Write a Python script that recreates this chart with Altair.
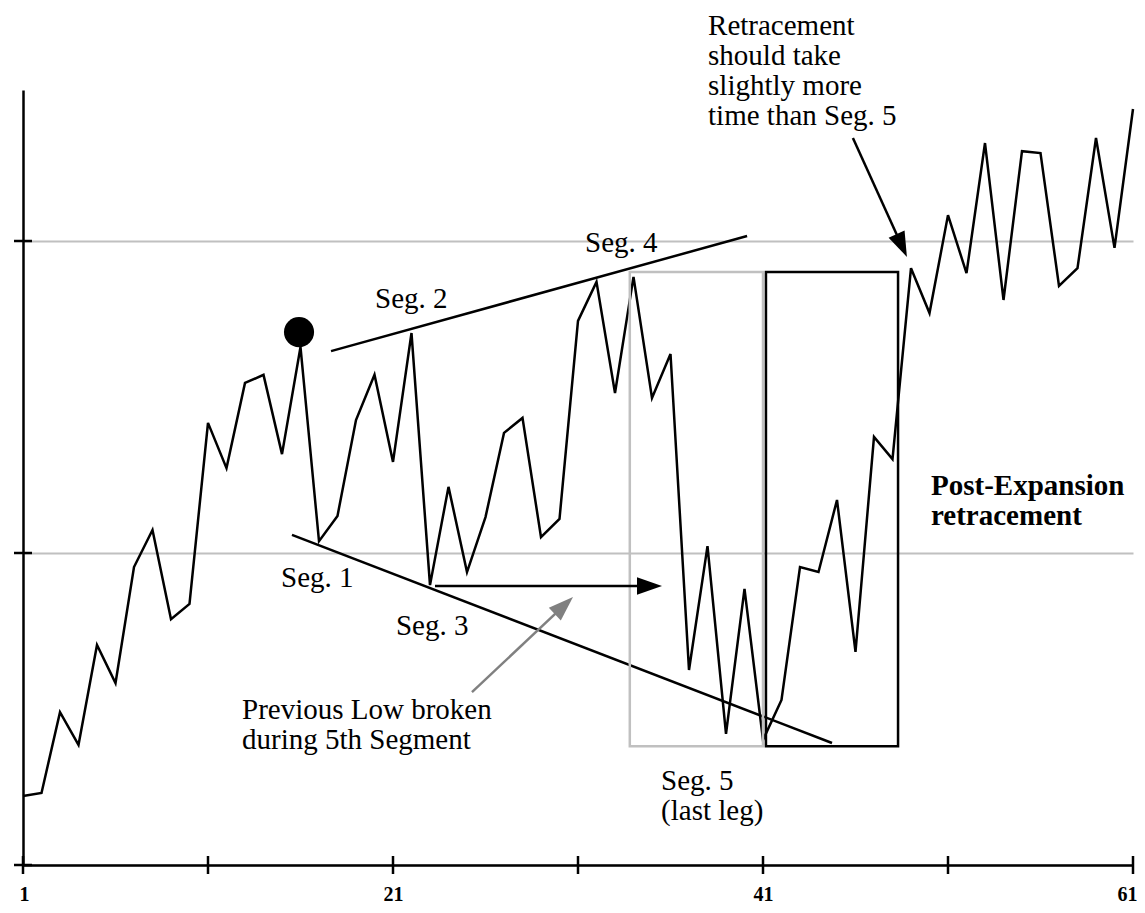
import math
import altair as alt
import pandas as pd

# ---------------- data ----------------
idx = list(range(1, 62))
price = [22.1, 23.1, 49.0, 38.5, 70.5, 58.3, 95.5, 107.4, 78.8, 83.7,
         141.7, 127.2, 154.5, 157.1, 131.7, 166.0, 103.8, 111.9, 142.6, 157.1,
         129.2, 170.5, 89.7, 121.2, 93.9, 111.5, 138.5, 143.3, 105.1, 110.9,
         174.4, 186.9, 151.3, 188.5, 149.7, 163.8, 62.5, 102.2, 42.0, 88.5,
         40.1, 52.9, 95.5, 93.9, 117.0, 68.3, 137.2, 130.1, 191.3, 176.9,
         208.3, 189.7, 231.4, 181.1, 228.8, 228.2, 185.6, 191.3, 233.0, 197.8,
         242.3]

x_ticks = [1, 11, 21, 31, 41, 51, 61]
y_ticks = [0, 100, 200]

# trend (channel) lines
trend_x1 = [17.65, 15.54]
trend_y1 = [164.7, 105.8]
trend_x2 = [40.14, 44.73]
trend_y2 = [201.6, 39.1]

# boxes (Seg. 5 and retracement)
box_x1 = [33.8, 41.16]
box_x2 = [41.0, 48.3]
box_y1 = [38.1, 38.1]
box_y2 = [190.1, 190.1]
box_color = ["#c0c0c0", "#000000"]

# arrows
arrow_x1 = [23.27, 25.27, 45.86]
arrow_y1 = [89.4, 55.4, 233.0]
arrow_x2 = [35.54, 30.73, 48.78]
arrow_y2 = [89.4, 85.9, 194.9]
arrow_color = ["#000000", "#808080", "#000000"]

# highlighted top
dot_x = [15.92]
dot_y = [170.8]

# annotations
note_x = [14.95, 20.03, 21.16, 31.38, 35.49, 12.84, 38.03]
note_y = [89.1, 178.5, 73.7, 196.5, 24.0, 46.8, 266.0]
note_text = [["Seg. 1"], ["Seg. 2"], ["Seg. 3"], ["Seg. 4"],
             ["Seg. 5", "(last leg)"],
             ["Previous Low broken", "during 5th Segment"],
             ["Retracement", "should take", "slightly more", "time than Seg. 5"]]
bold_x = [50.08]
bold_y = [118.6]
bold_text = [["Post-Expansion", "retracement"]]

# ---------------- layout ----------------
W, H = 1110, 775
XDOM = [1, 61]
YDOM = [0, 248.4]
PX_X = W / (XDOM[1] - XDOM[0])
PX_Y = H / (YDOM[1] - YDOM[0])
FONT = "Liberation Serif"

xs = alt.Scale(domain=XDOM, nice=False, zero=False)
ys = alt.Scale(domain=YDOM, nice=False, zero=False)

X_AX = alt.Axis(values=x_ticks, grid=False, ticks=False, domainColor="black",
                domainWidth=2.5, labelExpr="datum.value % 20 == 1 ? datum.label : ''",
                labelFont=FONT, labelFontWeight="bold", labelFontSize=20,
                labelColor="black", labelBaseline="alphabetic", labelPadding=35,
                labelFlush=True, labelFlushOffset=4, title="")
Y_AX = alt.Axis(values=y_ticks, grid=True, gridColor="#c0c0c0", gridWidth=2,
                ticks=False, labels=False, domainColor="black", domainWidth=2.5, title="")


def X(f):
    return alt.X(f, type="quantitative", scale=xs, axis=X_AX)


def Y(f):
    return alt.Y(f, type="quantitative", scale=ys, axis=Y_AX)


df_line = pd.DataFrame({"x": idx, "y": price})
df_trend = pd.DataFrame({"x": trend_x1, "y": trend_y1, "x2": trend_x2, "y2": trend_y2})
df_box = pd.DataFrame({"x": box_x1, "x2": box_x2, "y": box_y1, "y2": box_y2, "c": box_color})

# arrow shafts (end slightly before the tip) and heads
shaft_x2, shaft_y2, angles = [], [], []
for x1, y1, x2, y2 in zip(arrow_x1, arrow_y1, arrow_x2, arrow_y2):
    dx = (x2 - x1) * PX_X
    dy = -(y2 - y1) * PX_Y  # screen coords, down positive
    L = math.hypot(dx, dy)
    ux, uy = dx / L, dy / L
    back = 14
    shaft_x2.append(x2 - ux * back / PX_X)
    shaft_y2.append(y2 + uy * back / PX_Y)
    angles.append(math.degrees(math.atan2(dx, -dy)) % 360)

df_shaft = pd.DataFrame({"x": arrow_x1, "y": arrow_y1, "x2": shaft_x2, "y2": shaft_y2, "c": arrow_color})
df_head = pd.DataFrame({"x": arrow_x2, "y": arrow_y2, "a": angles, "c": arrow_color})
df_dot = pd.DataFrame({"x": dot_x, "y": dot_y})
df_xt = pd.DataFrame({"x": x_ticks, "y": [0] * len(x_ticks)})
df_yt = pd.DataFrame({"y": y_ticks, "x": [1] * len(y_ticks)})
df_note = pd.DataFrame({"x": note_x, "y": note_y, "t": note_text})
df_bold = pd.DataFrame({"x": bold_x, "y": bold_y, "t": bold_text})

line = alt.Chart(df_line).mark_line(color="black", strokeWidth=2.5, strokeJoin="miter").encode(
    x=X("x"), y=Y("y"))

trend = alt.Chart(df_trend).mark_rule(color="black", strokeWidth=2.5).encode(
    x=X("x"), y=Y("y"), x2="x2:Q", y2="y2:Q")

boxes = alt.Chart(df_box).mark_rect(fillOpacity=0, strokeWidth=2.5).encode(
    x=X("x"), x2="x2:Q", y=Y("y"), y2="y2:Q",
    stroke=alt.Stroke("c:N", scale=None))

shafts = alt.Chart(df_shaft).mark_rule(strokeWidth=2.5).encode(
    x=X("x"), y=Y("y"), x2="x2:Q", y2="y2:Q", color=alt.Color("c:N", scale=None))

heads = alt.Chart(df_head).mark_point(shape="M0,0 L-0.7,2 L0.7,2 Z", size=625,
                                       filled=True, opacity=1, strokeWidth=0).encode(
    x=X("x"), y=Y("y"),
    angle=alt.Angle("a:Q", scale=None), color=alt.Color("c:N", scale=None))

dot = alt.Chart(df_dot).mark_circle(size=908, color="black", opacity=1).encode(
    x=X("x"), y=Y("y"))

xt = alt.Chart(df_xt).mark_tick(orient="vertical", size=18, thickness=2.5, color="black", opacity=1).encode(
    x=X("x"), y=Y("y"))

yt = alt.Chart(df_yt).mark_tick(orient="horizontal", size=18, thickness=2.5, color="black", opacity=1).encode(
    y=Y("y"), x=X("x"))

notes = alt.Chart(df_note).mark_text(align="left", baseline="alphabetic", font=FONT,
                                     fontSize=29, lineHeight=30, color="black").encode(
    x=X("x"), y=Y("y"), text="t")

bold = alt.Chart(df_bold).mark_text(align="left", baseline="alphabetic", font=FONT,
                                    fontSize=29, fontWeight="bold", lineHeight=30, color="black").encode(
    x=X("x"), y=Y("y"), text="t")

chart = alt.layer(line, trend, boxes, shafts, heads, dot, xt, yt, notes, bold).properties(
    width=W, height=H,
    autosize=alt.AutoSizeParams(type="none"),
    padding={"left": 15, "top": 82, "right": 4, "bottom": 40},
    background="white",
).configure_view(stroke=None)

chart.save("out.html", embed_options={"renderer": "svg", "actions": False})
